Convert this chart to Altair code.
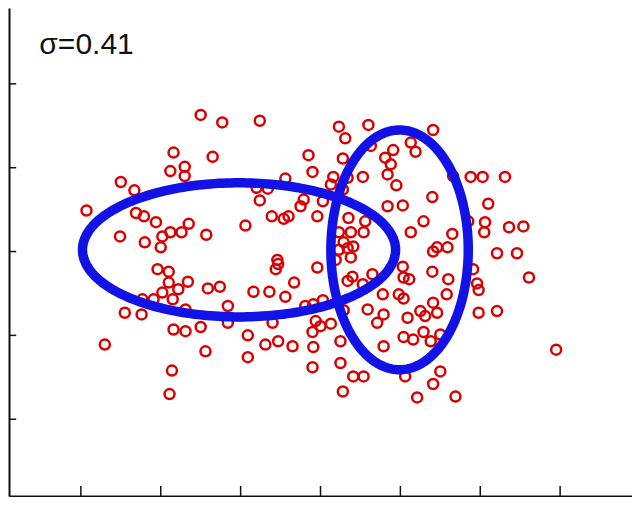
import altair as alt
import numpy as np
import pandas as pd

# ---- scatter data, grouped by region ----
x_a = [-2.93, -2.70, -2.51, -2.50, -2.45, -2.33, -2.31, -2.24, -2.23, -2.21,
       -2.20, -2.09, -2.06, -2.04, -2.00, -1.98, -1.98, -1.90, -1.90, -1.89,
       -1.88, -1.88, -1.86, -1.85, -1.84, -1.84, -1.78, -1.74, -1.70, -1.70,
       -1.69, -1.69, -1.66, -1.65, -1.50, -1.50, -1.44, -1.43, -1.41, -1.35]
y_a = [0.49, -1.11, 0.18, 0.83, -0.73, 0.73, 0.46, -0.75, -0.57, 0.42,
       0.11, -0.57, 0.35, -0.21, 0.05, 0.18, -0.49, -0.24, -0.37, -1.70,
       0.96, 0.23, -1.42, -0.57, 1.18, -0.93, -0.45, 0.23, 1.01, 0.90,
       -0.69, -0.95, -0.36, 0.33, 1.63, -0.90, -1.19, 0.20, -0.44, 1.13]

x_b = [-1.26, -1.23, -1.16, -1.16, -0.94, -0.91, -0.91, -0.84, -0.80, -0.66,
       -0.76, -0.76, -0.69, -0.64, -0.61, -0.60, -0.56, -0.54, -0.53, -0.53,
       -0.46, -0.44, -0.44, -0.40, -0.35, -0.33, -0.25, -0.21, -0.19, -0.15,
       -0.10, -0.09, -0.06, 0.00, 0.03, 0.13, -0.10, -0.09, -0.10, 0.25,
       0.25, 0.28, 0.41, 0.54]
y_b = [-0.42, 1.54, -0.65, -0.85, 0.31, -1.00, -1.26, -0.48, 0.76, 0.75,
       1.56, 0.61, -1.11, -0.48, 0.42, -0.85, -0.21, -0.10, -0.15, -1.07,
       0.39, 0.87, -0.54, 0.42, -1.13, -0.37, 0.54, 0.62, -0.65, 1.15,
       0.95, -0.63, -0.83, -0.89, -0.58, -0.86, -0.96, -1.14, -1.38, -1.07,
       -1.33, -1.67, -1.49, -1.49]

x_c = [-0.04, 0.03, 0.13, 0.16, 0.23, 0.28, 0.28, 0.31, 0.34, 0.53,
       0.60, 0.63, 0.35, 0.56, 0.23, 0.38, 0.54, 0.29, 0.41, 0.23,
       0.34, 0.38, 0.19, -0.04, 0.34, 0.40, 0.65, 0.53, 0.78, 0.98,
       1.04, 0.59, 0.79, 0.71, 0.79, 0.29]
y_c = [0.42, 0.60, 0.80, 0.89, 1.49, 1.11, 0.74, 1.35, 0.88, 0.89,
       1.51, 1.26, 0.40, 0.36, 0.23, 0.23, 0.23, 0.11, 0.06, 0.02,
       0.04, -0.07, -0.10, -0.19, -0.35, -0.30, -0.27, -0.39, -0.51, -0.51,
       -0.56, -0.69, -0.75, -0.85, -1.13, -0.70]

x_d = [0.81, 0.84, 0.88, 0.91, 0.95, 1.13, 1.19, 1.41, 1.40, 0.84,
       1.03, 1.29, 1.13, 1.41, 1.46, 1.59, 1.65, 1.03, 1.04, 1.11,
       1.40, 1.60, 1.58, 1.41, 1.09, 1.25, 1.31, 1.46, 1.04, 1.16,
       1.29, 1.38, 1.50, 1.06, 1.50, 1.41, 1.21, 1.69, 1.66]
y_d = [1.12, 0.92, 1.04, 1.21, 0.79, 1.30, 1.19, 1.45, 0.65, 0.54,
       0.55, 0.36, 0.23, 0.00, 0.05, 0.05, 0.21, -0.18, -0.31, -0.33,
       -0.24, -0.33, -0.51, -0.61, -0.79, -0.71, -0.77, -0.73, -1.02, -1.05,
       -0.96, -1.07, -0.99, -1.49, -1.43, -1.58, -1.74, -1.73, 0.90]

x_e = [1.85, 1.88, 2.03, 2.31, 2.10, 2.06, 2.05, 2.36, 2.54, 2.21,
       2.46, 1.91, 1.96, 1.98, 2.61, 1.98, 2.21, 2.95]
y_e = [0.36, 0.89, 0.89, 0.89, 0.57, 0.35, 0.23, 0.29, 0.30, -0.02,
       -0.02, -0.21, -0.38, -0.46, -0.31, -0.73, -0.71, -1.17]

# ---- the two Gaussian ellipses (center, semi-axes) ----
ell_cx = [-1.02, 0.99]
ell_cy = [0.02, 0.02]
ell_rx = [1.96, 0.86]
ell_ry = [0.80, 1.43]

# ---- axis tick positions and annotation ----
x_ticks = [-3, -2, -1, 0, 1, 2, 3]
y_ticks = [-2, -1, 0, 1, 2]
label_text = ["σ=0.41"]
label_x = [-3.52]
label_y = [2.357]

X_DOM = [-3.9, 3.9]
Y_DOM = [-2.916, 2.905]

pts = pd.DataFrame({"x": x_a + x_b + x_c + x_d + x_e,
                    "y": y_a + y_b + y_c + y_d + y_e})

rows = []
t = np.linspace(0, 2 * np.pi, 241)
for i, (cx, cy, rx, ry) in enumerate(zip(ell_cx, ell_cy, ell_rx, ell_ry)):
    for k, tt in enumerate(t):
        rows.append({"e": i, "k": k, "x": cx + rx * np.cos(tt), "y": cy + ry * np.sin(tt)})
ell = pd.DataFrame(rows)

xs = alt.Scale(domain=X_DOM, nice=False, zero=False)
ys = alt.Scale(domain=Y_DOM, nice=False, zero=False)

ax = dict(title=None, labels=False, ticks=False, grid=False, domain=True,
          domainColor="#111111", domainWidth=2, minExtent=0)
XA = alt.Axis(**ax)
YA = alt.Axis(**ax)

points = alt.Chart(pts).mark_point(
    shape="circle", filled=False, size=100, strokeWidth=2.5, color="#d80000", opacity=1
).encode(
    x=alt.X("x:Q", scale=xs, axis=XA),
    y=alt.Y("y:Q", scale=ys, axis=YA),
)

ellipses = alt.Chart(ell).mark_line(
    color="#1212e6", strokeWidth=9.5, strokeCap="round", strokeJoin="round"
).encode(
    x=alt.X("x:Q", scale=xs, axis=XA),
    y=alt.Y("y:Q", scale=ys, axis=YA),
    detail="e:N",
    order="k:Q",
)

xt = alt.Chart(pd.DataFrame({"x": x_ticks})).mark_rule(color="#111111", strokeWidth=1.5).encode(
    x=alt.X("x:Q", scale=xs, axis=XA),
    y=alt.datum(Y_DOM[0]),
    y2=alt.datum(Y_DOM[0] + 0.12),
)

yt = alt.Chart(pd.DataFrame({"y": y_ticks})).mark_rule(color="#111111", strokeWidth=1.5).encode(
    y=alt.Y("y:Q", scale=ys, axis=YA),
    x=alt.datum(X_DOM[0]),
    x2=alt.datum(X_DOM[0] + 0.09),
)

label = alt.Chart(pd.DataFrame({"x": label_x, "y": label_y, "t": label_text})).mark_text(
    align="left", baseline="alphabetic", fontSize=30, font="Liberation Sans", color="#111111"
).encode(
    x=alt.X("x:Q", scale=xs, axis=XA),
    y=alt.Y("y:Q", scale=ys, axis=YA),
    text="t:N",
)

chart = alt.layer(points, ellipses, xt, yt, label).properties(
    width=624, height=489,
    autosize=alt.AutoSizeParams(type="fit", contains="padding"),
    padding=0,
    background="white",
).configure_view(stroke=None)

chart.save("out.html", embed_options={"renderer": "svg", "actions": False})
